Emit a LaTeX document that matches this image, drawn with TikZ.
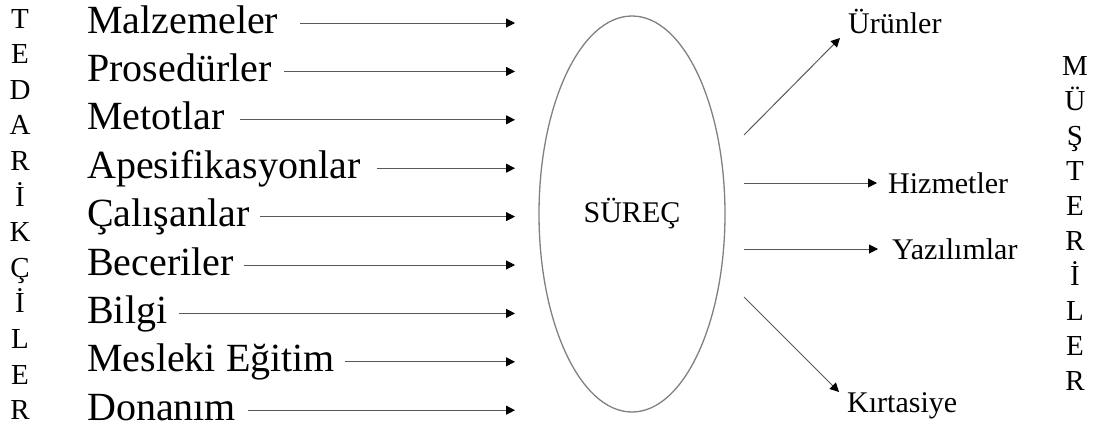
\documentclass[tikz,border=0pt]{standalone}
\usepackage{fontspec}
\setmainfont{Liberation Serif}
\usetikzlibrary{arrows.meta,shapes.geometric}
\begin{document}
\begin{tikzpicture}[x=1pt,y=-1pt,
  lab/.style={anchor=base west, inner sep=0pt, font=\fontsize{40}{40}\selectfont},
  vlet/.style={anchor=base, inner sep=0pt, font=\fontsize{29}{29}\selectfont},
  outlab/.style={anchor=base west, inner sep=0pt, font=\fontsize{30}{30}\selectfont},
  arr/.style={draw=black!65, line width=1pt, -{Triangle[length=9pt,width=9pt,fill=black,color=black]}},
  proc/.style={draw=black!50, line width=1.3pt, ellipse, minimum width=186pt, minimum height=396pt, inner sep=0pt, font=\fontsize{30}{30}\selectfont}]
\useasboundingbox (0,0) rectangle (1101,426);

% left vertical word
\foreach \l [count=\i from 0] in {T,E,D,A,R,İ,K,Ç,İ,L,E,R}
  \node[vlet] (s\i) at (20, 28+35.6*\i) {\l};

% right vertical word
\foreach \l [count=\i from 0] in {M,Ü,Ş,T,E,R,İ,L,E,R}
  \node[vlet] (m\i) at (1075, 75+35*\i) {\l};

% process ellipse
\node[proc] (surec) at (632,214) {SÜREÇ};

% inputs
\foreach \t/\g [count=\i from 0] in {Malzemeler/22,Prosedürler/12,Metotlar/15,Apesifikasyonlar/16,Çalışanlar/10,Beceriler/10,Bilgi/12,Mesleki Eğitim/10,Donanım/12}
{
  \node[lab] (in\i) at (87, 33+48.4*\i) {\t};
  \coordinate (it\i) at (515, 23+48.4*\i);
  \path (in\i.east |- it\i) coordinate (st\i);
  \draw[arr] ([xshift=\g pt]st\i) -- (it\i);
}

% outputs
\node[outlab] (o1) at (848,33) {Ürünler};
\node[outlab] (o2) at (888,193) {Hizmetler};
\node[outlab] (o3) at (892,259) {Yazılımlar};
\node[outlab] (o4) at (847,412) {Kırtasiye};

\coordinate (o1s) at (744,135); \coordinate (o1t) at (840,38);
\coordinate (o2s) at (744,183); \coordinate (o2t) at (877,183);
\coordinate (o3s) at (744,249); \coordinate (o3t) at (878,249);
\coordinate (o4s) at (744,297); \coordinate (o4t) at (839,392);

\draw[arr] (o1s) -- (o1t);
\draw[arr] (o2s) -- (o2t);
\draw[arr] (o3s) -- (o3t);
\draw[arr] (o4s) -- (o4t);
\end{tikzpicture}
\end{document}
